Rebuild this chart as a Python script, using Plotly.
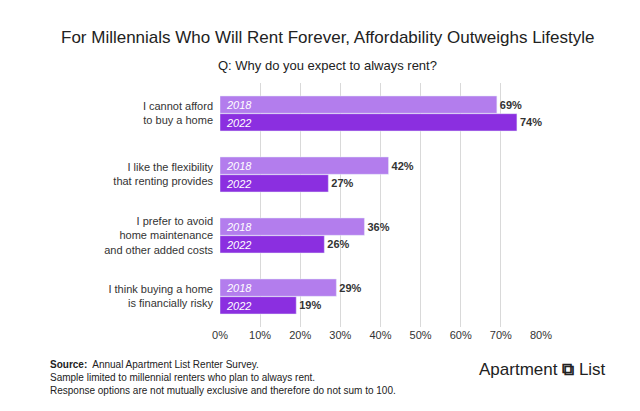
import plotly.graph_objects as go

categories = ["I cannot afford<br>to buy a home",
              "I like the flexibility<br>that renting provides",
              "I prefer to avoid<br>home maintenance<br>and other added costs",
              "I think buying a home<br>is financially risky"]
values_2018 = [69, 42, 36, 29]
values_2022 = [74, 27, 26, 19]
tick_vals = [0, 10, 20, 30, 40, 50, 60, 70, 80]
tick_text = ["0%", "10%", "20%", "30%", "40%", "50%", "60%", "70%", "80%"]

c2018 = "#b37ded"
c2022 = "#8b2fe0"
font = "Helvetica, Arial, Liberation Sans, sans-serif"

fig = go.Figure()
for name, vals, col in [("2018", values_2018, c2018), ("2022", values_2022, c2022)]:
    fig.add_trace(go.Bar(
        y=categories, x=vals, name=name, orientation="h", marker_color=col,
        text=[f"<b>{v}%</b>" for v in vals], textposition="outside", cliponaxis=False,
        textfont=dict(size=11, color="#333", family=font),
    ))

# year labels inside bars
for cat in categories:
    for name, shift in [("2018", 9), ("2022", -9)]:
        fig.add_annotation(x=0, y=cat, xref="x", yref="y", text=f"<i>{name}</i>",
                           xanchor="left", showarrow=False, xshift=4, yshift=shift,
                           font=dict(size=11, color="white", family=font))

fig.add_annotation(x=0.336, y=1.234, xref="paper", yref="paper",
                   text="For Millennials Who Will Rent Forever, Affordability Outweighs Lifestyle",
                   showarrow=False, font=dict(size=17, color="#222", family=font))
fig.add_annotation(x=0.336, y=1.11, xref="paper", yref="paper",
                   text="Q: Why do you expect to always rent?", showarrow=False,
                   font=dict(size=13, color="#222", family=font))
fig.add_annotation(x=-0.536, y=-0.29, xref="paper", yref="paper", yanchor="bottom", xanchor="left",
                   align="left", showarrow=False,
                   text="<b>Source:</b>  Annual Apartment List Renter Survey.<br>"
                        "Sample limited to millennial renters who plan to always rent.<br>"
                        "Response options are not mutually exclusive and therefore do not sum to 100.",
                   font=dict(size=10, color="#222", family=font))
fig.add_annotation(x=1.21, y=-0.22, xref="paper", yref="paper", xanchor="right",
                   showarrow=False, text="Apartment <b>⧉</b> List",
                   font=dict(size=17, color="#222", family=font))

fig.update_layout(
    width=640, height=411, barmode="group", bargap=0.42, bargroupgap=0.02,
    showlegend=False, plot_bgcolor="white", paper_bgcolor="white",
    margin=dict(l=212, r=107, t=75, b=92),
    font=dict(family=font, size=11, color="#333"),
    xaxis=dict(range=[0, 80], tickvals=tick_vals, ticktext=tick_text, showgrid=True,
               gridcolor="#d9d9d9", zeroline=False, tickfont=dict(size=11)),
    yaxis=dict(autorange="reversed", ticklabelstandoff=6, tickfont=dict(size=11)),
)
fig.write_html("out.html")
